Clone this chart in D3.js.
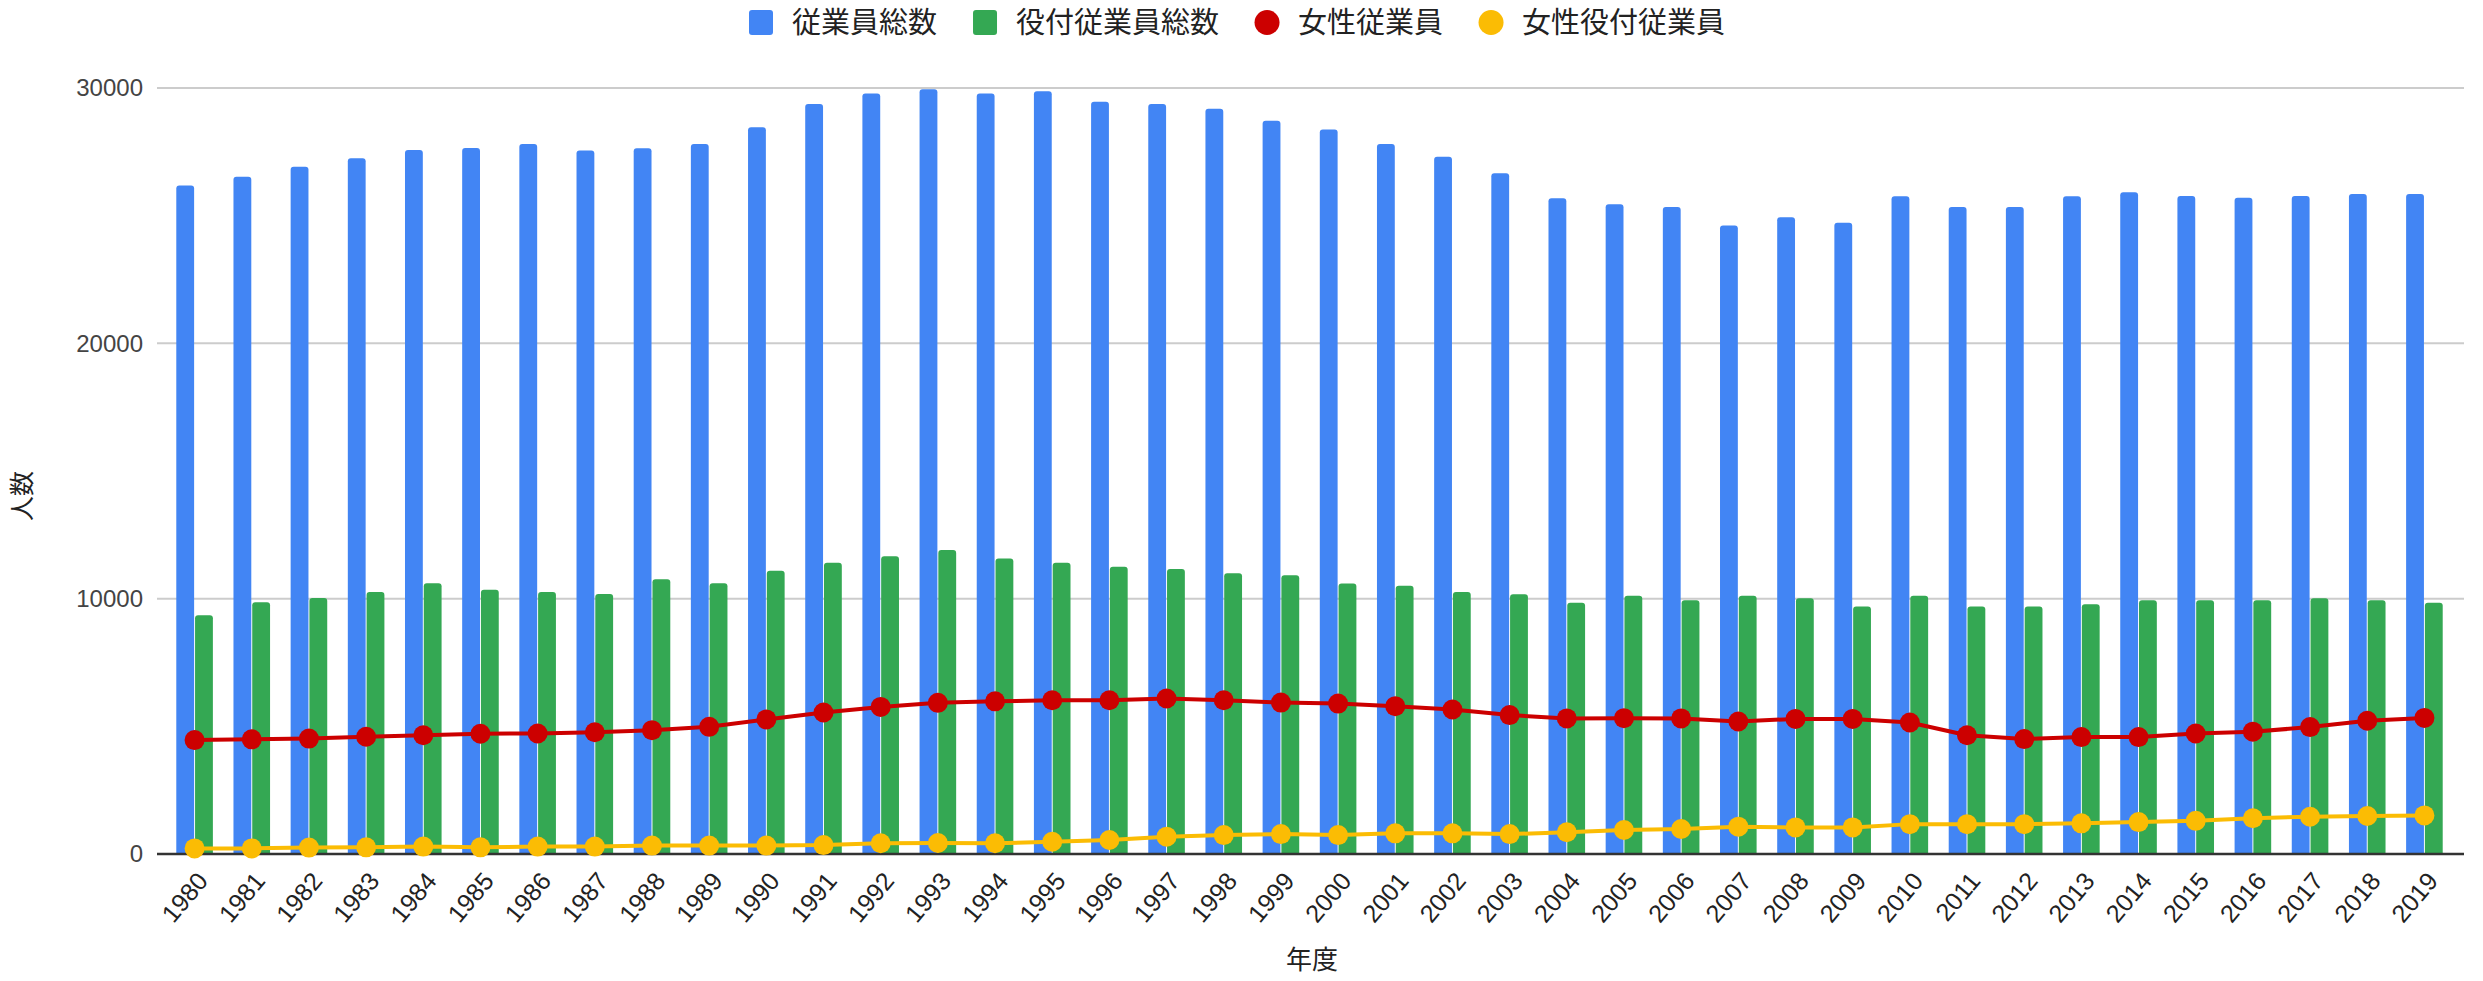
<!DOCTYPE html>
<html>
<head>
<meta charset="utf-8">
<script src="https://cdn.jsdelivr.net/npm/d3@7/dist/d3.min.js"></script>
<style>
  html, body { margin: 0; padding: 0; background: #fff; }
  svg { display: block; }
  text { font-family: Arial, "Liberation Sans", "Noto Sans CJK JP", sans-serif; }
</style>
</head>
<body>
<svg id="chart" width="2483" height="981"></svg>
<script>
// ---- data ----
const years = ["1980","1981","1982","1983","1984","1985","1986","1987","1988","1989",
  "1990","1991","1992","1993","1994","1995","1996","1997","1998","1999",
  "2000","2001","2002","2003","2004","2005","2006","2007","2008","2009",
  "2010","2011","2012","2013","2014","2015","2016","2017","2018","2019"];

const totalEmployees = [26180,26520,26920,27250,27570,27650,27810,27550,27640,27810,
  28460,29370,29780,29950,29780,29870,29460,29370,29190,28720,
  28370,27810,27310,26660,25680,25450,25340,24610,24940,24720,
  25760,25340,25340,25760,25920,25770,25700,25770,25850,25850];

const roleEmployees = [9350,9860,10030,10260,10600,10350,10260,10180,10760,10600,
  11090,11410,11660,11910,11570,11410,11250,11160,11000,10920,
  10590,10510,10260,10170,9840,10110,9940,10110,10020,9690,
  10110,9690,9690,9780,9940,9940,9940,10020,9940,9840];

const femaleEmployees = [4460,4490,4520,4590,4650,4710,4720,4770,4850,4980,
  5270,5540,5760,5920,5980,6020,6020,6090,6020,5930,
  5890,5790,5660,5440,5310,5320,5310,5190,5290,5290,
  5150,4650,4500,4580,4580,4720,4790,4970,5220,5330];

const femaleRoleEmployees = [220,220,250,260,290,260,290,290,330,330,
  330,350,420,430,420,480,550,680,740,780,
  740,810,810,780,850,940,980,1070,1040,1040,
  1170,1170,1170,1200,1250,1300,1400,1460,1490,1510];

const yTicks = [0, 10000, 20000, 30000];
const seriesNames = ["従業員総数", "役付従業員総数", "女性従業員", "女性役付従業員"];
const seriesColors = ["#4285f4", "#34a853", "#cc0000", "#fbbc04"];
const xTitle = "年度";
const yTitle = "人数";

// ---- layout ----
const svg = d3.select("#chart");
const plotLeft = 157, plotRight = 2464, plotTop = 88, plotBottom = 854;

const y = d3.scaleLinear().domain([0, 30000]).range([plotBottom, plotTop]);
const x0 = d3.scaleBand().domain(years).range([166, 2453]).paddingInner(0.36).paddingOuter(0.18);
const x1 = d3.scaleBand().domain([0, 1]).range([0, x0.bandwidth()]).paddingInner(0.05);

// gridlines
svg.append("g").selectAll("line").data(yTicks.filter(d => d !== 0)).join("line")
  .attr("x1", plotLeft).attr("x2", plotRight)
  .attr("y1", d => y(d)).attr("y2", d => y(d))
  .attr("stroke", "#cccccc").attr("stroke-width", 2);

// y axis labels
const yAxis = d3.axisLeft(y).tickValues(yTicks).tickSize(0).tickPadding(0).tickFormat(d3.format("d"));
const yg = svg.append("g").attr("transform", `translate(143,0)`).call(yAxis);
yg.select(".domain").remove();
yg.selectAll("text").attr("font-size", 24).attr("fill", "#444")
  .attr("font-family", 'Arial, "Liberation Sans", sans-serif');

// rounded-top bar path
function barPath(x, yTop, w, yBottom, r) {
  const h = yBottom - yTop;
  r = Math.min(r, h, w / 2);
  return `M${x},${yBottom}V${yTop + r}Q${x},${yTop} ${x + r},${yTop}H${x + w - r}Q${x + w},${yTop} ${x + w},${yTop + r}V${yBottom}Z`;
}

const barSeries = [totalEmployees, roleEmployees];
barSeries.forEach((vals, si) => {
  svg.append("g").selectAll("path").data(years).join("path")
    .attr("d", (yr, i) => barPath(x0(yr) + x1(si), y(vals[i]), x1.bandwidth(), y(0), 3))
    .attr("fill", seriesColors[si]);
});

// baseline
svg.append("line").attr("x1", plotLeft).attr("x2", plotRight)
  .attr("y1", y(0)).attr("y2", y(0)).attr("stroke", "#333").attr("stroke-width", 2.5);

// lines with markers
const cx = yr => x0(yr) + x0.bandwidth() / 2;
[[femaleRoleEmployees, 3], [femaleEmployees, 2]].forEach(([vals, ci]) => {
  const line = d3.line().x((d, i) => cx(years[i])).y(d => y(d));
  svg.append("path").datum(vals).attr("d", line)
    .attr("fill", "none").attr("stroke", seriesColors[ci]).attr("stroke-width", 4)
    .attr("stroke-linejoin", "round");
  svg.append("g").selectAll("circle").data(vals).join("circle")
    .attr("cx", (d, i) => cx(years[i])).attr("cy", d => y(d)).attr("r", 10)
    .attr("fill", seriesColors[ci]);
});

// x axis labels
const xAxis = d3.axisBottom(x0).tickSize(0).tickPadding(0);
const xg = svg.append("g").attr("transform", `translate(0,${plotBottom})`).call(xAxis);
xg.select(".domain").remove();
xg.selectAll("text")
  .attr("font-size", 25).attr("fill", "#222")
  .attr("font-family", 'Arial, "Liberation Sans", sans-serif')
  .attr("text-anchor", "end")
  .attr("dy", "0.35em")
  .attr("transform", "translate(8,22) rotate(-50)")
  .attr("y", 0).attr("x", 0);

// axis titles
svg.append("text").attr("x", 1312).attr("y", 969).attr("text-anchor", "middle")
  .attr("font-size", 26).attr("fill", "#222").text(xTitle);
svg.append("text").attr("transform", "translate(31,496) rotate(-90)").attr("text-anchor", "middle")
  .attr("font-size", 25).attr("fill", "#222").text(yTitle);

// legend
const legend = svg.append("g");
let lx = 749;
seriesNames.forEach((name, i) => {
  if (i < 2) {
    legend.append("rect").attr("x", lx).attr("y", 10).attr("width", 24).attr("height", 25)
      .attr("rx", 3).attr("fill", seriesColors[i]);
  } else {
    legend.append("circle").attr("cx", lx + 12).attr("cy", 22.5).attr("r", 12.5).attr("fill", seriesColors[i]);
  }
  const t = legend.append("text").attr("x", lx + 43).attr("y", 33)
    .attr("font-size", 29).attr("fill", "#222").text(name);
  const w = t.node().getComputedTextLength();
  lx = lx + 43 + w + 36;
});
</script>
</body>
</html>
